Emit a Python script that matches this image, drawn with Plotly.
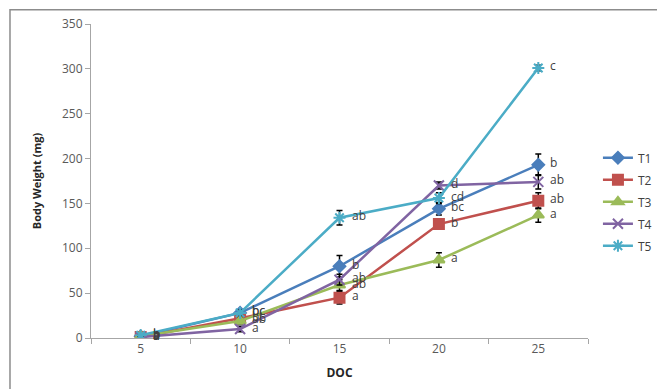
import plotly.graph_objects as go

doc = ["5", "10", "15", "20", "25"]

t1 = [2, 28, 80, 144, 193]
t2 = [1, 22, 45, 127, 153]
t3 = [2, 19, 59, 87, 137]
t4 = [1, 10, 65, 170, 174]
t5 = [3, 28, 134, 156, 301]

t1_err = [1, 3, 12, 7, 12]
t2_err = [1, 3, 7, 5, 9]
t3_err = [1, 3, 6, 8, 8]
t4_err = [1, 3, 6, 4, 8]
t5_err = [1, 3, 8, 6, 3]

t1_lab = ["b", "bc", "b", "bc", "b"]
t2_lab = ["a", "bc", "a", "b", "ab"]
t3_lab = ["a", "ab", "ab", "a", "a"]
t4_lab = ["a", "a", "ab", "d", "ab"]
t5_lab = ["b", "bc", "ab", "cd", "c"]

series = [
    ("T1", t1, t1_err, t1_lab, "#4A7EBB", "diamond", 9),
    ("T2", t2, t2_err, t2_lab, "#C0504D", "square", 10),
    ("T3", t3, t3_err, t3_lab, "#9BBB59", "triangle-up", 10),
    ("T4", t4, t4_err, t4_lab, "#8064A2", "x-thin-open", 10),
    ("T5", t5, t5_err, t5_lab, "#4BACC6", "asterisk-open", 10),
]

fig = go.Figure()
for name, vals, errs, labs, col, sym, sz in series:
    fig.add_trace(go.Scatter(
        x=doc, y=vals, name=name, mode="lines+markers",
        legendgroup=name,
        line=dict(color=col, width=2.5),
        marker=dict(symbol=sym, size=sz, color=col,
                    line=dict(color=col, width=2)),
        error_y=dict(type="data", array=errs, visible=True,
                     color="black", thickness=1.5, width=3),
    ))
    for i, (yv, lb) in enumerate(zip(vals, labs)):
        fig.add_annotation(x=i, y=yv, text=lb, showarrow=False,
                           xref="x", yref="y",
                           xanchor="left", xshift=10, yshift=2,
                           font=dict(family="Open Sans", size=12, color="#404040"))

fig.add_shape(type="rect", xref="paper", yref="paper",
              x0=-0.163, x1=1.3, y0=-0.5, y1=1.045,
              line=dict(color="#8c8c8c", width=1.5), layer="below")

fig.update_layout(
    width=657, height=381,
    margin=dict(l=83, r=77, t=16, b=51, autoexpand=False),
    paper_bgcolor="white", plot_bgcolor="white",
    font=dict(family="Open Sans", size=11, color="#595959"),
    legend=dict(x=1.02, y=0.62, xanchor="left", yanchor="top",
                font=dict(size=12, color="#404040"), tracegroupgap=3,
                bgcolor="rgba(0,0,0,0)"),
    xaxis=dict(
        type="category", range=[-0.5, 4.5], tickson="boundaries",
        ticks="outside", ticklen=5, tickcolor="#a6a6a6",
        showline=True, linecolor="#a6a6a6", linewidth=1,
        showgrid=False, zeroline=False,
        tickfont=dict(size=12, color="#595959"),
        title=dict(text="<b>DOC</b>", font=dict(size=12, color="#262626"), standoff=12),
    ),
    yaxis=dict(
        range=[0, 350], dtick=50, ticks="outside", ticklen=5,
        tickcolor="#a6a6a6", showline=True, linecolor="#a6a6a6", linewidth=1,
        showgrid=False, zeroline=False,
        tickfont=dict(size=12, color="#595959"),
        title=dict(text="<b>Body Weight (mg)</b>", font=dict(size=11, color="#262626"), standoff=18),
    ),
)

fig.write_html("out.html")
